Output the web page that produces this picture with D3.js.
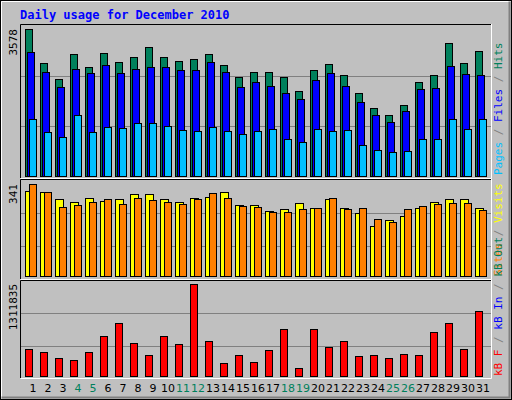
<!DOCTYPE html>
<html><head><meta charset="utf-8">
<script src="https://cdn.jsdelivr.net/npm/d3@7"></script>
<style>body{margin:0;background:#fff}svg{display:block}</style>
</head><body>
<script>
const days = d3.range(1,32).map(String);
const weekends = ["4","5","11","12","18","19","25","26"];
const hits = [3578,2750,2361,2969,2653,2994,2775,2896,3140,2896,2799,2848,2969,2702,2410,2531,2531,2410,2069,2580,2726,2458,2020,1655,1485,1728,2288,2458,3237,2750,3042];
const files = [3018,2531,2166,2604,2507,2702,2507,2604,2653,2653,2580,2580,2775,2531,2166,2288,2191,2020,1874,2337,2507,2191,1801,1485,1314,1582,2118,2142,2677,2483,2458];
const pages = [1387,1071,949,1485,1071,1193,1168,1290,1290,1217,1120,1095,1193,1095,1022,1095,1144,901,828,1144,1095,1120,755,633,584,608,901,901,1387,1144,1387];
const visits = [315,311,285,274,289,278,285,304,304,285,274,289,293,311,263,263,241,248,271,252,285,252,234,185,208,222,252,274,285,285,252];
const sites = [341,311,256,263,274,285,267,289,282,274,267,285,308,289,259,256,237,237,248,252,289,248,252,211,200,248,259,267,271,271,245];
const kbytes = [378228,335139,263324,234597,335139,564949,751669,464407,306413,564949,450044,1311835,493133,191508,306413,205871,363865,665490,119693,665490,406955,493133,292050,306413,263324,320776,306413,622401,751669,378228,924026];

const svg = d3.select("body").append("svg").attr("width",512).attr("height",400);
svg.append("rect").attr("x",0).attr("y",0).attr("width",512).attr("height",400).attr("fill","#c0c0c0");
svg.append("rect").attr("x",0.5).attr("y",0.5).attr("width",511).attr("height",399).attr("fill","none").attr("stroke","#000");
svg.append("path").attr("d","M1.5,398.5V1.5H510.5").attr("fill","none").attr("stroke","#fff");
svg.append("path").attr("d","M1.5,397.5H509.5V1.5").attr("fill","none").attr("stroke","#808080").attr("stroke-width",2);

svg.append("text").attr("x",20).attr("y",19).text("Daily usage for December 2010")
  .attr("font-family","DejaVu Sans Mono").attr("font-weight","bold").attr("font-size",12).attr("fill","#0000ff");

const x = d3.scaleBand().domain(days).range([25,490]).paddingInner(0).paddingOuter(0);
// box outlines
function panel(y0,y1){
  svg.append("path").attr("d",`M20.5,${y1}V${y0}.5H491.5`).attr("fill","none").attr("stroke","#000");
  svg.append("path").attr("d",`M20.5,${y1}.5H491.5V${y0}`).attr("fill","none").attr("stroke","#fff");
}
panel(24,178); panel(179,279); panel(280,378);

function grid(y){ svg.append("line").attr("x1",21).attr("x2",491).attr("y1",Math.round(y)+0.5).attr("y2",Math.round(y)+0.5).attr("stroke","#808080"); }
function bars(vals,y,off,w,color){
  svg.append("g").selectAll("rect").data(vals).join("rect")
    .attr("x",(d,i)=>x(days[i])+off+0.5).attr("width",w)
    .attr("y",d=>Math.round(y(d))+0.5).attr("height",d=>y(0)-Math.round(y(d)))
    .attr("fill",color).attr("stroke","#000");
}
function leftLabel(txt,yTop){
  svg.append("text").attr("transform",`translate(17,${yTop}) rotate(-90)`).attr("text-anchor","end")
   .attr("font-family","DejaVu Sans Mono").attr("font-size",11).attr("fill","#000").text(txt);
}
function rightLabel(parts,yBottom){
  const t=svg.append("text").attr("transform",`translate(502,${yBottom}) rotate(-90)`)
   .attr("font-family","DejaVu Sans Mono").attr("font-size",11);
  parts.forEach(p=>t.append("tspan").attr("fill",p[1]).text(p[0]));
}

// top panel
const y1 = d3.scaleLinear().domain([0,3578]).range([176,29]);
grid(y1(3578*0.68)); grid(y1(3578*0.34));
bars(hits,y1,0,7,"#00805c");
bars(files,y1,2,7,"#0000ff");
bars(pages,y1,4,7,"#00c0ff");
leftLabel("3578",29);
rightLabel([["Pages","#00c0ff"],[" / ","#808080"],["Files","#0000ff"],[" / ","#808080"],["Hits","#00805c"]],175);

// middle panel
const y2 = d3.scaleLinear().domain([0,341]).range([276,184]);
grid(y2(341*0.685)); grid(y2(341*0.326));
bars(visits,y2,0,8,"#ffff00");
bars(sites,y2,4,7,"#ff8000");
leftLabel("341",184);
rightLabel([["Sites","#ff8000"],[" / ","#808080"],["Visits","#ffff00"]],276);

// bottom panel
const y3 = d3.scaleLinear().domain([0,1311835]).range([376,284]);
grid(y3(1311835*0.685)); grid(y3(1311835*0.324));
bars(kbytes,y3,0,7,"#ff0000");
leftLabel("1311835",284);
rightLabel([["kB F","#ff0000"],[" / ","#808080"],["kB In","#0000ff"],[" / ","#808080"],["kB Out","#00805c"]],376);

svg.append("g").selectAll("text").data(days).join("text")
  .attr("x",d=>x(d)+8).attr("y",392).attr("text-anchor","middle")
  .attr("font-family","DejaVu Sans").attr("font-size",11)
  .attr("fill",d=>weekends.includes(d)?"#00805c":"#000").text(d=>d);
</script>
</body></html>
